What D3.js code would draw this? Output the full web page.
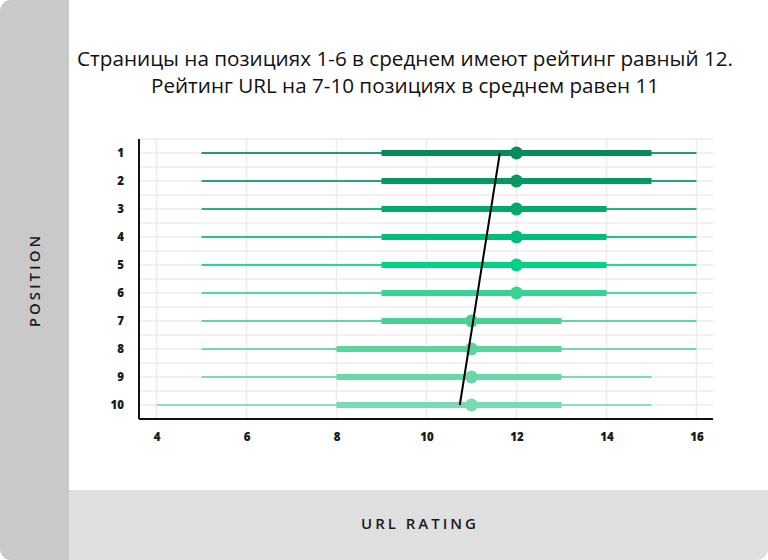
<html>
<script src="https://d3js.org/d3.v7.min.js"></script>
<style>
    body { margin: 0; background: #fff; }
    text { font-family: "Open Sans", Lato, sans-serif; }
</style>
<body>
<svg width="768" height="560" id="chart"></svg>
<script>
    // values
    var positions = ["1", "2", "3", "4", "5", "6", "7", "8", "9", "10"];
    var whiskerLow  = [5, 5, 5, 5, 5, 5, 5, 5, 5, 4];
    var boxLow      = [9, 9, 9, 9, 9, 9, 9, 8, 8, 8];
    var medians     = [12, 12, 12, 12, 12, 12, 11, 11, 11, 11];
    var boxHigh     = [15, 15, 14, 14, 14, 14, 13, 13, 13, 13];
    var whiskerHigh = [16, 16, 16, 16, 16, 16, 16, 16, 15, 15];
    var rowColors = ["#078a59", "#06985f", "#03a96a", "#02be78", "#01d386",
                     "#37d394", "#4ccf93", "#5dd39d", "#69d7a7", "#7cdab2"];
    var xTicks = [4, 6, 8, 10, 12, 14, 16];
    var trendFrom = { pos: "1", value: 11.63 };
    var trendTo = { pos: "10", value: 10.74 };
    var titleLines = ["Страницы на позициях 1-6 в среднем имеют рейтинг равный 12.",
                      "Рейтинг URL на 7-10 позициях в среднем равен 11"];
    var titleWidths = [656, 508];

    var rows = positions.map(function (p, i) {
        return { pos: p, wl: whiskerLow[i], bl: boxLow[i], med: medians[i],
                 bh: boxHigh[i], wh: whiskerHigh[i], color: rowColors[i] };
    });

    var svg = d3.select("#chart");
    var W = 768, H = 560;

    // card background with rounded corners
    svg.append("clipPath").attr("id", "card")
        .append("rect").attr("width", W).attr("height", H).attr("rx", 11);
    var card = svg.append("g").attr("clip-path", "url(#card)");
    card.append("rect").attr("width", W).attr("height", H).attr("fill", "#fff");
    card.append("rect").attr("x", 0).attr("y", 0).attr("width", 69).attr("height", H).attr("fill", "#c9c9c9");
    card.append("rect").attr("x", 69).attr("y", 490).attr("width", W - 69).attr("height", 70).attr("fill", "#dfdfdf");

    // titles
    svg.append("g").selectAll("text")
        .data(titleLines)
        .enter().append("text")
        .attr("x", 405)
        .attr("y", function (d, i) { return 66 + i * 27; })
        .attr("text-anchor", "middle")
        .attr("font-size", 19.5)
        .attr("textLength", function (d, i) { return titleWidths[i]; })
        .attr("lengthAdjust", "spacingAndGlyphs")
        .attr("fill", "#111")
        .text(function (d) { return d; });

    svg.append("text")
        .attr("transform", "translate(40,280) rotate(-90)")
        .attr("text-anchor", "middle")
        .attr("font-size", 15)
        .attr("font-weight", 600)
        .attr("letter-spacing", 3)
        .attr("fill", "#1a1a1a")
        .text("POSITION");

    svg.append("text")
        .attr("x", 420).attr("y", 529)
        .attr("text-anchor", "middle")
        .attr("font-size", 15)
        .attr("font-weight", 600)
        .attr("letter-spacing", 3)
        .attr("fill", "#1a1a1a")
        .text("URL RATING");

    // scales
    var plotLeft = 139, plotRight = 713, plotTop = 139, plotBottom = 419;
    var x = d3.scaleLinear().domain([4, 16]).range([156.5, 696.5]);
    var y = d3.scalePoint().domain(positions).range([plotTop, plotBottom]).padding(0.5);

    var g = svg.append("g");

    // grid
    var hGrid = d3.range(0, 21).map(function (k) { return plotTop + k * y.step() / 2; });
    g.append("g").selectAll("line").data(hGrid).enter().append("line")
        .attr("x1", plotLeft).attr("x2", plotRight)
        .attr("y1", function (d) { return d; }).attr("y2", function (d) { return d; })
        .attr("stroke", "#ececec").attr("stroke-width", 1.5);
    g.append("g").selectAll("line").data(xTicks).enter().append("line")
        .attr("x1", function (d) { return x(d); }).attr("x2", function (d) { return x(d); })
        .attr("y1", plotTop).attr("y2", plotBottom)
        .attr("stroke", "#ececec").attr("stroke-width", 1.5);

    // whiskers
    g.append("g").selectAll("line").data(rows).enter().append("line")
        .attr("x1", function (d) { return x(d.wl); }).attr("x2", function (d) { return x(d.wh); })
        .attr("y1", function (d) { return y(d.pos); }).attr("y2", function (d) { return y(d.pos); })
        .attr("stroke", function (d) { return d.color; })
        .attr("stroke-opacity", 0.85)
        .attr("stroke-width", 2);

    // boxes
    g.append("g").selectAll("line").data(rows).enter().append("line")
        .attr("x1", function (d) { return x(d.bl); }).attr("x2", function (d) { return x(d.bh); })
        .attr("y1", function (d) { return y(d.pos); }).attr("y2", function (d) { return y(d.pos); })
        .attr("stroke", function (d) { return d.color; })
        .attr("stroke-width", 6);

    // medians
    g.append("g").selectAll("circle").data(rows).enter().append("circle")
        .attr("cx", function (d) { return x(d.med); })
        .attr("cy", function (d) { return y(d.pos); })
        .attr("r", 6.5)
        .attr("fill", function (d) { return d.color; });

    // trend line
    g.append("line")
        .attr("x1", x(trendFrom.value)).attr("y1", y(trendFrom.pos))
        .attr("x2", x(trendTo.value)).attr("y2", y(trendTo.pos))
        .attr("stroke", "#000").attr("stroke-width", 2);

    // axes
    var xAxis = g.append("g")
        .attr("transform", "translate(0," + plotBottom + ")")
        .call(d3.axisBottom(x).tickValues(xTicks).tickSize(0).tickPadding(14));
    xAxis.select(".domain").remove();
    var yAxis = g.append("g")
        .attr("transform", "translate(" + plotLeft + ",0)")
        .call(d3.axisLeft(y).tickSize(0).tickPadding(15));
    yAxis.select(".domain").remove();
    g.selectAll(".tick text")
        .attr("font-family", "'Open Sans', sans-serif")
        .attr("font-size", 11.5)
        .attr("font-weight", 800)
        .attr("fill", "#1a1a1a");

    g.append("line").attr("x1", plotLeft).attr("x2", plotRight).attr("y1", plotBottom).attr("y2", plotBottom)
        .attr("stroke", "#111").attr("stroke-width", 2);
    g.append("line").attr("x1", plotLeft).attr("x2", plotLeft).attr("y1", plotTop).attr("y2", plotBottom)
        .attr("stroke", "#111").attr("stroke-width", 2);
</script>
</body>
</html>
